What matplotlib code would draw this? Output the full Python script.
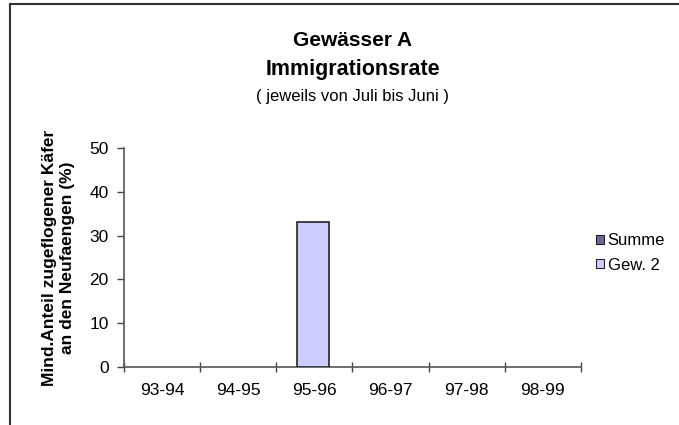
import matplotlib
matplotlib.use("Agg")
import matplotlib.pyplot as plt
import numpy as np
from matplotlib.patches import Patch
from matplotlib.lines import Line2D

categories = ["93-94", "94-95", "95-96", "96-97", "97-98", "98-99"]
summe = [0, 0, 0, 0, 0, 0]
gew2 = [0, 0, 33, 0, 0, 0]
yticks = [0, 10, 20, 30, 40, 50]

plt.rcParams['font.family'] = ['Liberation Sans', 'DejaVu Sans']

W, H = 679, 425
fig = plt.figure(figsize=(W / 100, H / 100), dpi=100)
fig.patch.set_facecolor('white')

# figure frame lines (top and left)
fig.add_artist(Line2D([10 / W, 1.0], [1 - 4 / H, 1 - 4 / H], color='#333333', lw=1.5))
fig.add_artist(Line2D([10 / W, 10 / W], [0, 1 - 4 / H], color='#333333', lw=1.5))

ax = fig.add_axes([124 / W, 1 - 367 / H, (581 - 124) / W, (367 - 148) / H])
x = np.arange(len(categories))
bw = 0.41
ax.bar(x, summe, width=bw, color='#666699', edgecolor='none', linewidth=0)
mask = [v > 0 for v in gew2]
ax.bar(x[mask] - 0.02, np.array(gew2)[mask], width=bw, color='#CCCCFF', edgecolor='#222222',
       linewidth=1.2, zorder=3)

ax.set_xlim(-0.5, len(categories) - 0.5)
ax.set_ylim(0, 50)
ax.set_yticks(yticks)
ax.set_yticklabels([str(t) for t in yticks], fontsize=12.5)
ax.set_xticks(np.arange(len(categories) + 1) - 0.5)
ax.set_xticklabels([])
ax.set_xticks(x, minor=True)
ax.set_xticklabels(categories, minor=True, fontsize=12.5)
ax.tick_params(axis='x', which='minor', length=0, pad=11.5)
ax.tick_params(axis='x', which='major', length=7, direction='inout', color='#444444', width=1)
ax.tick_params(axis='y', length=5, direction='out', color='#444444', width=1, pad=6)
for s in ['top', 'right']:
    ax.spines[s].set_visible(False)
for s in ['left', 'bottom']:
    ax.spines[s].set_color('#555555')
    ax.spines[s].set_linewidth(1.2)

ax.set_ylabel("Mind.Anteil zugeflogener Käfer\nan den Neufaengen (%)", fontsize=12.5, fontweight='bold',
              labelpad=10, linespacing=1.25)

cx = (124 + 581) / 2 / W
fig.text(cx, 1 - 41 / H, "Gewässer A", ha='center', va='center', fontsize=15, fontweight='bold')
fig.text(cx, 1 - 70 / H, "Immigrationsrate", ha='center', va='center', fontsize=15.5, fontweight='bold')
fig.text(cx, 1 - 96 / H, "( jeweils von Juli bis Juni )", ha='center', va='center', fontsize=12)

handles = [Patch(facecolor='#666699', edgecolor='#222222', linewidth=0.8),
           Patch(facecolor='#CCCCFF', edgecolor='#222222', linewidth=0.8)]
fig.legend(handles, ["Summe", "Gew. 2"], loc='center left', bbox_to_anchor=(596 / W, 1 - 253 / H),
           frameon=False, fontsize=12, handlelength=0.5, handleheight=0.5, handletextpad=0.2,
           labelspacing=0.55, borderaxespad=0, borderpad=0)

fig.savefig("out.png", dpi=100)
